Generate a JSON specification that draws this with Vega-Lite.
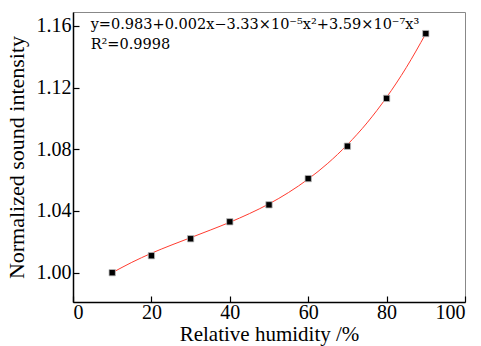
{
  "$schema": "https://vega.github.io/schema/vega-lite/v6.json",
  "width": 392,
  "height": 290,
  "autosize": "none",
  "padding": {"left": 73, "top": 12, "right": 16, "bottom": 44},
  "background": "white",
  "config": {
    "view": {"stroke": "#888888", "strokeWidth": 1},
    "font": "Liberation Serif",
    "axis": {
      "labelFont": "Liberation Serif",
      "titleFont": "Liberation Serif",
      "labelFontSize": 20,
      "titleFontSize": 21,
      "titleFontWeight": "normal",
      "labelColor": "black",
      "titleColor": "black",
      "domainColor": "black",
      "domainWidth": 1.5,
      "tickColor": "black",
      "tickWidth": 1.2,
      "grid": false
    }
  },
  "datasets": {
    "points": [
      {"rh": 10, "intensity": 1.000},
      {"rh": 20, "intensity": 1.011},
      {"rh": 30, "intensity": 1.022},
      {"rh": 40, "intensity": 1.033},
      {"rh": 50, "intensity": 1.044},
      {"rh": 60, "intensity": 1.061},
      {"rh": 70, "intensity": 1.082},
      {"rh": 80, "intensity": 1.113},
      {"rh": 90, "intensity": 1.155}
    ],
    "fit": [
      {"rh": 10, "fit": 1.0000},
      {"rh": 15, "fit": 1.0067},
      {"rh": 20, "fit": 1.0126},
      {"rh": 25, "fit": 1.0178},
      {"rh": 30, "fit": 1.0227},
      {"rh": 35, "fit": 1.0276},
      {"rh": 40, "fit": 1.0327},
      {"rh": 45, "fit": 1.0383},
      {"rh": 50, "fit": 1.0446},
      {"rh": 55, "fit": 1.0520},
      {"rh": 60, "fit": 1.0607},
      {"rh": 65, "fit": 1.0709},
      {"rh": 70, "fit": 1.0830},
      {"rh": 75, "fit": 1.0971},
      {"rh": 80, "fit": 1.1137},
      {"rh": 85, "fit": 1.1329},
      {"rh": 90, "fit": 1.1550}
    ],
    "notes": [
      {"line": 1, "text": "y=0.983+0.002x−3.33×10⁻⁵x²+3.59×10⁻⁷x³"},
      {"line": 2, "text": "R²=0.9998"}
    ]
  },
  "layer": [
    {
      "data": {"name": "fit"},
      "mark": {"type": "line", "color": "#ff3b2f", "strokeWidth": 1, "interpolate": "monotone"},
      "encoding": {
        "x": {
          "field": "rh", "type": "quantitative",
          "scale": {"domain": [0, 100], "nice": false},
          "axis": {
            "title": "Relative humidity /%",
            "values": [0, 10, 20, 30, 40, 50, 60, 70, 80, 90, 100],
            "labelExpr": "datum.value % 20 === 0 ? datum.label : ''",
            "tickSize": {"condition": {"test": "datum.value % 20 === 0", "value": -6}, "value": -3},
            "labelPadding": 6,
            "titlePadding": 1
          }
        },
        "y": {
          "field": "fit", "type": "quantitative",
          "scale": {"domain": [0.981, 1.169], "nice": false, "zero": false},
          "axis": {
            "title": "Normalized sound intensity",
            "titleFontSize": 22,
            "values": [1.00, 1.02, 1.04, 1.06, 1.08, 1.10, 1.12, 1.14, 1.16],
            "labelExpr": "round(datum.value*100) % 4 === 0 ? format(datum.value, '.2f') : ''",
            "tickSize": {"condition": {"test": "round(datum.value*100) % 4 === 0", "value": -6}, "value": -3},
            "labelPadding": 8,
            "titlePadding": 8
          }
        }
      }
    },
    {
      "data": {"name": "points"},
      "mark": {"type": "point", "shape": "square", "filled": true, "color": "black", "size": 40, "opacity": 1, "stroke": "#bbbbbb", "strokeWidth": 0.8},
      "encoding": {
        "x": {"field": "rh", "type": "quantitative"},
        "y": {"field": "intensity", "type": "quantitative"}
      }
    },
    {
      "data": {"name": "notes"},
      "transform": [{"filter": "datum.line === 1"}],
      "mark": {"type": "text", "align": "left", "baseline": "middle", "fontSize": 14.5, "font": "DejaVu Serif", "color": "black"},
      "encoding": {
        "x": {"datum": 4.5},
        "y": {"datum": 1.1607},
        "text": {"field": "text"}
      }
    },
    {
      "data": {"name": "notes"},
      "transform": [{"filter": "datum.line === 2"}],
      "mark": {"type": "text", "align": "left", "baseline": "middle", "fontSize": 14.5, "font": "DejaVu Serif", "color": "black"},
      "encoding": {
        "x": {"datum": 4.5},
        "y": {"datum": 1.1477},
        "text": {"field": "text"}
      }
    }
  ]
}
